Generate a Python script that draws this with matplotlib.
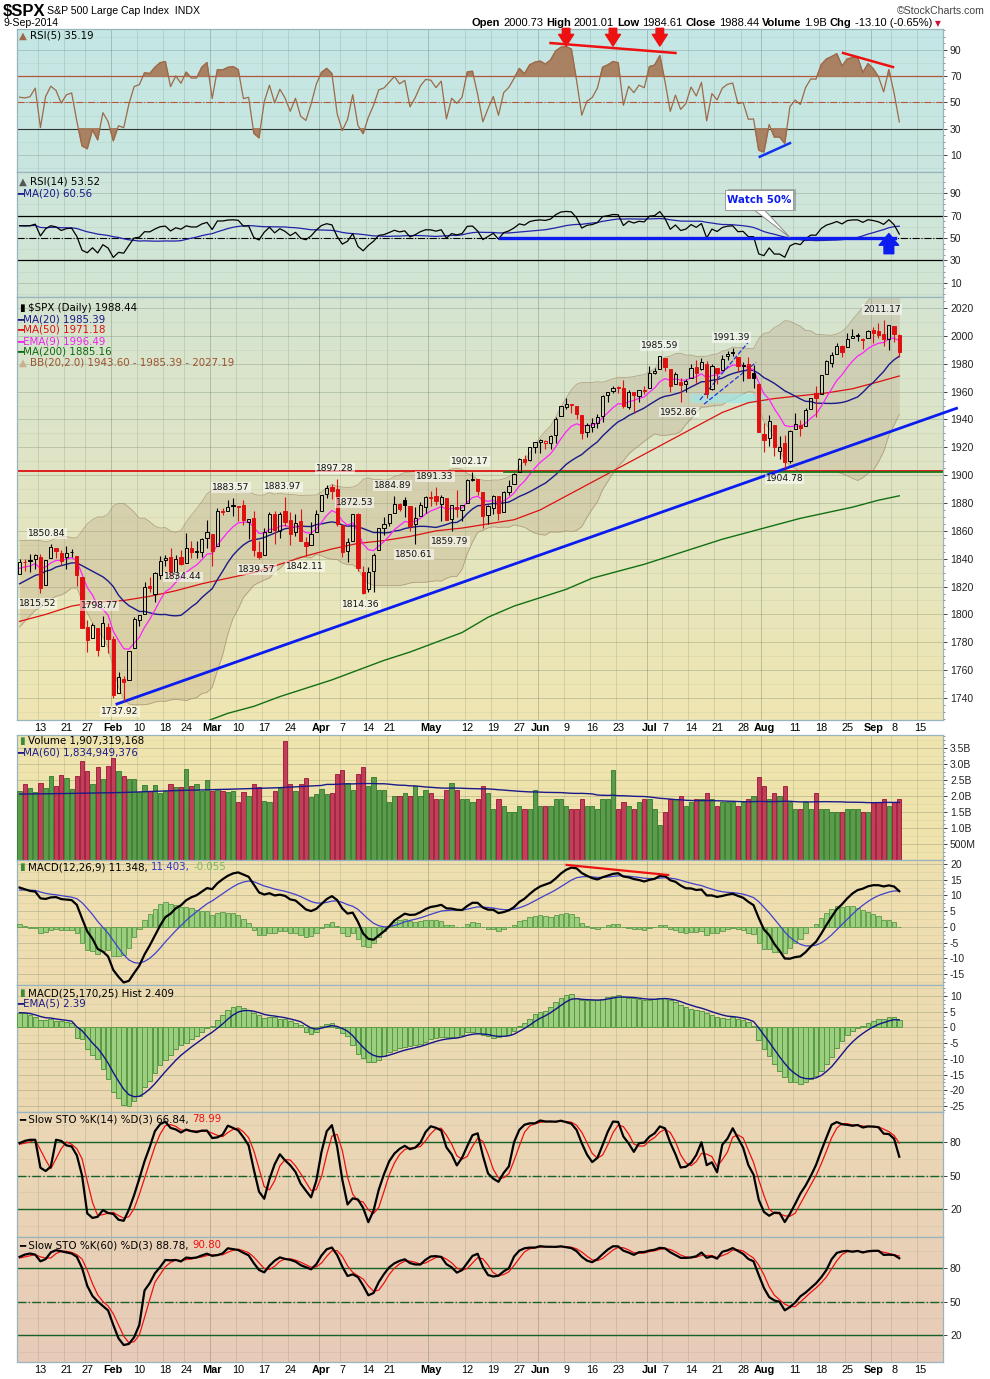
import numpy as np
import pandas as pd
import matplotlib
matplotlib.use("Agg")
import matplotlib.pyplot as plt
from matplotlib.colors import to_rgb
from matplotlib.patches import Rectangle, Polygon
from matplotlib.ticker import AutoMinorLocator

plt.rcParams['font.family'] = ['DejaVu Sans']

# ---------------- data ----------------
holidays = ['2014-01-20', '2014-02-17', '2014-04-18', '2014-05-26', '2014-07-04', '2014-09-01']
dates = pd.bdate_range('2014-01-07', '2014-09-09')
dates = dates[~dates.isin(pd.to_datetime(holidays))]

opens = [1828.71,1837.90,1839.00,1840.06,1841.26,1821.36,1840.52,1847.99,1844.23,1841.05,
         1844.71,1842.29,1826.96,1791.03,1783.00,1790.15,1777.17,1790.88,1782.68,1743.82,
         1753.38,1752.99,1776.01,1796.20,1800.45,1820.12,1814.82,1828.46,1839.03,1841.07,
         1829.24,1841.07,1836.78,1847.66,1845.79,1844.90,1855.12,1857.68,1849.23,1874.05,
         1874.18,1878.52,1877.86,1878.26,1866.15,1869.06,1845.07,1842.81,1858.92,1872.25,
         1860.09,1874.53,1867.67,1859.48,1867.09,1852.11,1850.07,1859.16,1873.96,1886.61,
         1891.43,1890.25,1863.92,1845.48,1852.64,1872.28,1830.65,1818.18,1831.45,1846.01,
         1861.73,1865.79,1872.57,1879.32,1881.97,1877.72,1865.00,1870.78,1877.10,1884.39,
         1885.30,1879.45,1883.69,1868.53,1877.39,1875.27,1880.03,1896.75,1897.13,1888.16,
         1871.19,1876.66,1884.88,1873.34,1888.19,1893.32,1902.01,1911.77,1910.60,1920.33,
         1923.87,1923.07,1923.06,1928.52,1942.41,1948.97,1950.34,1949.37,1943.35,1930.80,
         1934.84,1937.15,1942.73,1957.50,1960.45,1962.92,1962.58,1949.27,1959.89,1956.56,
         1960.79,1962.29,1973.06,1975.88,1984.22,1976.39,1965.10,1966.67,1965.76,1969.86,
         1977.36,1976.35,1979.75,1961.54,1976.93,1975.65,1985.32,1988.07,1984.60,1978.25,
         1980.03,1973.21,1965.14,1929.80,1926.62,1936.34,1917.29,1923.03,1910.35,1933.43,
         1935.73,1935.60,1947.41,1958.87,1958.36,1972.73,1980.46,1986.82,1992.60,1991.74,
         1998.59,2000.54,1997.42,1998.45,2004.07,2003.57,2001.67,1998.00,2007.17,2000.73]
highs = [1840.10,1840.02,1843.23,1843.15,1843.45,1839.26,1850.84,1847.99,1846.04,1849.31,
         1846.87,1842.29,1826.96,1795.98,1793.87,1790.15,1798.77,1793.88,1784.83,1758.73,
         1755.79,1774.06,1798.03,1799.94,1823.54,1826.55,1830.25,1841.65,1842.87,1847.50,
         1842.79,1846.13,1858.71,1852.91,1852.65,1854.53,1867.92,1857.68,1876.23,1876.53,
         1881.94,1883.57,1877.87,1882.35,1868.38,1874.40,1852.44,1862.30,1873.76,1874.14,
         1873.49,1883.97,1873.34,1871.87,1875.92,1855.55,1866.63,1875.18,1885.84,1893.17,
         1893.80,1897.28,1864.04,1854.95,1872.43,1872.53,1835.07,1834.19,1844.02,1862.31,
         1869.63,1871.89,1884.89,1879.75,1884.06,1877.72,1877.01,1880.60,1885.20,1888.59,
         1891.33,1885.51,1883.69,1878.83,1889.07,1878.57,1897.13,1902.17,1897.13,1888.16,
         1878.28,1886.00,1884.88,1888.80,1896.33,1901.26,1912.28,1914.46,1920.03,1924.03,
         1925.88,1925.07,1928.63,1941.74,1949.44,1955.55,1950.86,1949.37,1943.35,1937.30,
         1941.15,1943.69,1957.74,1959.87,1963.91,1963.74,1968.17,1960.83,1959.89,1961.47,
         1964.24,1978.58,1976.67,1985.59,1984.22,1976.39,1974.15,1969.84,1968.67,1979.85,
         1982.52,1983.94,1981.80,1979.91,1976.93,1986.24,1989.23,1991.39,1984.60,1981.52,
         1984.85,1978.90,1965.14,1937.35,1942.92,1936.34,1927.91,1928.89,1932.38,1944.90,
         1939.65,1948.41,1955.23,1964.04,1971.99,1982.57,1988.57,1994.76,1993.54,2001.95,
         2005.04,2002.14,1998.55,2004.28,2006.12,2009.28,2011.17,2007.71,2007.17,2001.01]
lows = [1828.71,1831.40,1830.38,1832.43,1815.52,1821.36,1840.52,1840.30,1835.23,1832.38,
        1840.88,1820.06,1790.29,1772.88,1783.00,1770.45,1777.17,1772.26,1739.66,1743.82,
        1737.92,1752.99,1776.01,1791.83,1800.41,1815.97,1809.22,1825.59,1835.01,1826.99,
        1824.58,1835.60,1836.78,1840.19,1840.66,1841.13,1847.67,1834.44,1849.23,1871.11,
        1874.18,1870.56,1867.04,1863.88,1854.38,1841.86,1839.57,1842.81,1858.92,1850.35,
        1854.63,1863.46,1849.69,1855.96,1852.56,1842.11,1850.07,1859.16,1873.96,1883.79,
        1882.65,1863.26,1841.48,1837.49,1852.38,1830.87,1814.36,1815.80,1816.29,1846.01,
        1856.72,1863.18,1872.57,1873.91,1870.24,1859.70,1850.61,1870.78,1872.69,1878.04,
        1878.50,1866.77,1867.72,1859.79,1870.05,1867.02,1880.03,1896.06,1885.77,1862.36,
        1864.82,1872.42,1868.14,1873.34,1885.39,1893.32,1902.01,1907.30,1909.82,1915.98,
        1915.98,1918.79,1918.60,1922.93,1942.41,1947.16,1944.64,1940.08,1925.78,1927.69,
        1930.91,1933.55,1938.29,1952.26,1959.17,1958.89,1948.34,1947.49,1944.69,1952.18,
        1958.22,1962.29,1972.58,1975.88,1974.88,1959.46,1965.10,1952.86,1959.63,1969.86,
        1965.34,1975.67,1955.59,1960.82,1965.77,1975.65,1982.44,1985.79,1974.37,1967.31,
        1969.95,1962.42,1930.67,1916.37,1921.20,1913.77,1911.45,1904.78,1909.01,1933.43,
        1928.29,1935.60,1947.41,1941.50,1958.36,1972.73,1977.68,1986.82,1984.76,1991.74,
        1998.59,1996.20,1990.52,1998.45,1994.85,1998.14,1992.54,1990.10,1995.60,1984.61]
closes = [1837.88,1837.49,1838.13,1842.37,1819.20,1838.88,1848.38,1845.89,1838.70,1843.80,
          1844.86,1828.46,1790.29,1781.56,1792.50,1774.20,1794.19,1782.59,1741.89,1755.20,
          1751.64,1773.43,1797.02,1799.84,1819.75,1819.26,1829.83,1838.63,1840.76,1828.75,
          1839.78,1836.25,1847.61,1845.12,1845.16,1854.29,1859.45,1845.73,1873.91,1873.81,
          1877.03,1878.04,1877.17,1867.63,1868.20,1846.34,1841.13,1858.83,1872.25,1860.77,
          1872.01,1866.52,1857.44,1865.62,1852.56,1849.04,1857.62,1872.34,1885.52,1890.90,
          1888.77,1865.09,1845.04,1851.96,1872.18,1833.08,1815.69,1830.61,1842.98,1862.31,
          1864.85,1871.89,1879.55,1875.39,1878.61,1863.40,1869.43,1878.33,1883.95,1883.68,
          1881.14,1884.66,1867.72,1878.21,1875.63,1878.48,1896.65,1897.45,1888.53,1870.85,
          1877.86,1885.08,1872.83,1888.03,1892.49,1900.53,1911.91,1909.78,1920.03,1923.57,
          1924.97,1924.24,1927.88,1940.46,1949.44,1951.27,1950.79,1943.89,1930.11,1936.16,
          1937.78,1941.99,1956.98,1959.48,1962.87,1962.61,1949.98,1959.53,1957.22,1960.96,
          1960.23,1973.32,1974.62,1985.44,1977.65,1963.71,1972.83,1964.68,1967.57,1977.10,
          1973.28,1981.57,1958.12,1978.22,1973.63,1983.53,1987.01,1987.98,1978.34,1978.91,
          1969.95,1970.07,1930.67,1925.15,1938.99,1920.21,1920.24,1909.57,1931.59,1936.92,
          1933.75,1946.72,1955.18,1955.06,1971.74,1981.60,1986.51,1992.37,1988.40,1997.92,
          2000.02,2000.12,1996.74,2003.37,2002.28,2000.72,1997.65,2007.71,2001.54,1988.44]
volume_b = [2.15,2.37,2.24,2.13,2.40,2.24,2.62,2.31,2.65,2.55,2.21,2.62,3.08,2.77,2.37,2.90,2.52,2.94,3.18,2.77,
            2.62,2.52,2.52,2.11,2.33,2.17,2.33,2.08,2.17,2.37,2.27,2.27,2.83,2.30,2.37,2.17,2.49,2.15,2.21,2.15,
            2.11,2.15,1.80,2.11,1.99,2.37,2.27,1.83,1.80,2.15,2.24,3.72,2.37,2.17,2.37,2.55,1.96,2.05,2.21,2.05,
            2.10,2.70,2.80,2.40,2.20,2.70,2.90,2.30,2.60,2.20,2.20,1.80,2.00,2.00,2.10,2.00,2.30,2.00,2.20,2.10,
            1.90,1.90,2.20,2.40,2.20,1.90,1.90,1.80,1.90,2.30,2.10,1.60,1.90,1.70,1.50,1.50,1.70,1.60,1.60,2.20,
            1.70,1.70,1.70,1.90,1.90,1.70,1.60,1.60,1.90,1.70,1.70,1.60,1.90,1.90,2.80,1.60,1.80,1.70,1.60,1.80,
            1.90,1.90,1.60,1.10,1.50,1.90,1.90,2.00,1.70,1.80,1.90,1.90,2.10,1.90,1.70,1.80,1.80,1.80,1.70,1.80,
            1.90,2.00,2.60,2.30,1.90,2.10,2.00,2.30,1.80,1.60,1.60,1.80,1.60,2.10,1.60,1.60,1.50,1.50,1.50,1.60,
            1.60,1.60,1.50,1.50,1.80,1.80,1.90,1.70,1.80,1.907]
# 60-day volume average over the first 59 days
vol_ma_head_idx = [0, 10, 20, 30, 40, 50, 58]
vol_ma_head_val = [2.06, 2.08, 2.11, 2.17, 2.21, 2.26, 2.33]

# MACD(25,170,25) histogram, read bar by bar
macd2_hist = [4.7,4.5,4.0,3.2,2.4,2.3,2.8,2.1,2.1,1.8,1.5,-3.4,-3.6,-6.8,-8.9,-10.0,-13.2,-16.4,-20.4,-22.6,
              -24.7,-24.9,-23.3,-21.7,-19.0,-16.9,-14.5,-12.1,-10.2,-8.7,-6.8,-5.7,-4.9,-3.6,-2.6,-1.3,-0.2,0.6,2.3,3.8,
              5.7,6.6,6.8,6.2,5.5,4.7,3.8,3.0,3.2,3.2,2.8,2.6,1.9,1.5,0.85,-1.3,-2.1,-1.3,0.4,1.1,
              1.3,-0.2,-1.7,-2.8,-5.5,-8.4,-9.8,-11.1,-10.9,-10.2,-9.1,-7.9,-7.3,-6.6,-6.2,-6.0,-5.7,-5.3,-4.5,-3.8,
              -3.4,-3.1,-3.1,-3.1,-3.1,-2.3,-1.5,-1.5,-1.7,-2.3,-2.6,-3.4,-3.2,-2.8,-2.3,-1.1,0.6,1.5,2.8,4.3,
              4.9,5.3,6.6,8.1,9.4,10.4,10.7,9.4,8.6,8.6,8.6,8.6,8.9,9.6,10.0,10.2,9.8,9.4,9.4,8.9,
              8.7,8.7,8.9,9.4,9.4,8.7,8.1,7.2,6.4,6.0,5.5,5.3,4.5,3.8,3.4,3.0,2.8,3.2,2.8,2.3,
              1.7,0.6,-4.1,-7.0,-9.1,-11.7,-14.0,-15.7,-17.2,-17.4,-18.0,-17.2,-16.4,-15.5,-13.8,-11.5,-9.4,-6.6,-4.3,-2.3,
              -1.1,-0.2,0.6,1.5,2.1,2.6,2.6,3.2,3.2,2.409]

# moving averages (index of trading day, value)
ma50_idx = [0,5,10,15,20,25,30,35,40,45,50,55,60,65,70,75,80,85,90,95,100,105,110,115,120,125,130,135,140,145,150,155,160,165,169]
ma50_val = [1795,1800,1806,1809,1810,1813,1817,1822,1826,1830,1836,1842,1847,1851,1853,1856,1860,1862,1865,1868,
            1875,1885,1895,1905,1915,1925,1935,1945,1952,1955,1957,1959,1962,1967,1971.18]
ma200_idx = [30,35,40,45,50,55,60,65,70,75,80,85,90,95,100,105,110,115,120,125,130,135,140,145,150,155,160,165,169]
ma200_val = [1716,1722,1729,1734,1741,1747,1753,1760,1767,1773,1780,1787,1798,1806,1812,1818,1826,1831,1836,1842,
             1848,1854,1859,1864,1869,1873,1877,1882,1885.16]
# first 19 days of the 20-day average and bands
ma20_head = [1822,1824,1826,1828,1829,1831,1832,1834,1835,1836,1837,1837,1835,1833,1831,1829,1827,1824,1820]
bbu_head = [1853,1853,1853,1853,1853,1852,1853,1855,1856,1856,1855,1855,1860,1865,1868,1870,1870,1872,1878]
bbl_head = [1791,1795,1799,1803,1805,1810,1811,1813,1814,1816,1819,1819,1810,1801,1794,1788,1784,1776,1762]
# indicator states at the left edge
rsi5_start, rsi14_start = 54.0, 61.0
ema9_seed, ema12_seed, ema26_seed, signal_seed = 1832.0, 1832.0, 1819.0, 11.5
sto14_k_head = [79,81,82,82,57,54,58,82,81,77,76,68,50,16,12,13,19]
sto14_d_head = [78,79,80,82,73,64,56,65,74,80,78,74,65,45,26,14,15]
sto60_k_head = [90,92,93,92,86,88,94,96,95,94,93,90,80,64,55,50,46,42,29,17,11,12,18,29]
sto60_d_head = [89,90,91,92,90,89,89,93,95,95,94,92,88,78,66,56,50,46,39,29,19,13,14,20]

tick_dates = ['2014-01-13','2014-01-21','2014-01-27','2014-02-03','2014-02-10','2014-02-18','2014-02-24',
              '2014-03-03','2014-03-10','2014-03-17','2014-03-24','2014-04-01','2014-04-07','2014-04-14',
              '2014-04-21','2014-05-01','2014-05-12','2014-05-19','2014-05-27','2014-06-02','2014-06-09',
              '2014-06-16','2014-06-23','2014-07-01','2014-07-07','2014-07-14','2014-07-21','2014-07-28',
              '2014-08-01','2014-08-11','2014-08-18','2014-08-25','2014-09-02','2014-09-08','2014-09-15']
tick_labels = ['13','21','27','Feb','10','18','24','Mar','10','17','24','Apr','7','14','21','May','12','19',
               '27','Jun','9','16','23','Jul','7','14','21','28','Aug','11','18','25','Sep','8','15']
month_labels = {'Feb','Mar','Apr','May','Jun','Jul','Aug','Sep'}

price_labels = [(5.3,'1850.84',1850.84,1),(3.5,'1815.52',1815.52,-1),(15.4,'1798.77',1798.77,1),
                (19.3,'1737.92',1737.92,-1),(31.4,'1834.44',1834.44,-1),(40.6,'1883.57',1883.57,1),
                (45.6,'1839.57',1839.57,-1),(50.6,'1883.97',1883.97,1),(54.8,'1842.11',1842.11,-1),
                (60.6,'1897.28',1897.28,1),(64.4,'1872.53',1872.53,1),(65.6,'1814.36',1814.36,-1),
                (71.7,'1884.89',1884.89,1),(75.8,'1850.61',1850.61,-1),(79.8,'1891.33',1891.33,1),
                (82.7,'1859.79',1859.79,-1),(86.5,'1902.17',1902.17,1),(123.0,'1985.59',1985.59,1),
                (126.7,'1952.86',1952.86,-1),(136.8,'1991.39',1991.39,1),(147.0,'1904.78',1904.78,-1),
                (165.7,'2011.17',2011.17,1)]

# ---------------- derived ----------------
o = np.array(opens); h = np.array(highs); l = np.array(lows); c = np.array(closes)
n = len(c)
x = np.arange(n)
cs = pd.Series(c)

def rsi_wilder(vals, per, start):
    d = np.diff(vals)
    mag = np.mean(np.abs(d[:per]))
    ag, al = mag * start / 100, mag * (1 - start / 100)
    out = [start]
    for v in d:
        ag = (ag * (per - 1) + max(v, 0)) / per
        al = (al * (per - 1) + max(-v, 0)) / per
        out.append(100 * ag / (ag + al))
    return np.array(out)

def ema(vals, span, seed):
    a = 2 / (span + 1); e = seed; out = []
    for v in vals:
        e = e + a * (v - e); out.append(e)
    return np.array(out)

rsi5 = rsi_wilder(c, 5, rsi5_start)
rsi14 = rsi_wilder(c, 14, rsi14_start)
rsi14_ma = pd.Series(rsi14).rolling(20, min_periods=1).mean().values

ma20 = cs.rolling(20).mean().values
sd20 = cs.rolling(20).std(ddof=0).values
bbu = ma20 + 2 * sd20; bbl = ma20 - 2 * sd20
ma20[:19] = ma20_head; bbu[:19] = bbu_head; bbl[:19] = bbl_head
ema9 = ema(c, 9, ema9_seed)

macd = ema(c, 12, ema12_seed) - ema(c, 26, ema26_seed)
signal = ema(macd, 9, signal_seed)
mhist = macd - signal

m2 = np.array(macd2_hist)
m2_ema = pd.Series(m2).ewm(span=5, adjust=False).mean().values

def slow_sto(per, khead, dhead):
    hh = pd.Series(h).rolling(per, min_periods=1).max()
    ll = pd.Series(l).rolling(per, min_periods=1).min()
    fast = 100 * (cs - ll) / (hh - ll)
    k = fast.rolling(3, min_periods=1).mean().values
    k[:len(khead)] = khead
    d = pd.Series(k).rolling(3, min_periods=1).mean().values
    d[:len(dhead)] = dhead
    return k, d

k14, d14 = slow_sto(14, sto14_k_head, sto14_d_head)
k60, d60 = slow_sto(60, sto60_k_head, sto60_d_head)

vol = np.array(volume_b)
vol_ma_full = pd.Series(vol).rolling(60).mean().values
vma_x = np.r_[vol_ma_head_idx, np.arange(59, n)]
vma_y = np.r_[vol_ma_head_val, vol_ma_full[59:]]
down = np.r_[False, c[1:] < c[:-1]]

date_index = {d.strftime('%Y-%m-%d'): i for i, d in enumerate(dates)}
tick_pos = [date_index.get(d, n - 1 + 4) for d in tick_dates]

# ---------------- figure ----------------
W, H = 990, 1379
fig = plt.figure(figsize=(W / 100, H / 100), dpi=100)
fig.patch.set_facecolor('white')
renderer = fig.canvas.get_renderer()
X0, X1 = 17, 943
XL = (-0.5, 177.4)
LIB = ['Liberation Sans', 'DejaVu Sans']
LEG = 7.4

def add_ax(top, bottom):
    return fig.add_axes([X0 / W, 1 - bottom / H, (X1 - X0) / W, (bottom - top) / H])

def grad(ax, ct, cb):
    t = np.array(to_rgb(ct)); b = np.array(to_rgb(cb))
    f = np.linspace(0, 1, 200)[:, None]
    img = (t * (1 - f) + b * f)[:, None, :]
    ax.imshow(img, extent=[0, 1, 0, 1], transform=ax.transAxes, aspect='auto',
              zorder=-10, interpolation='bilinear')

def setup(ax, ylim, yticks, ytl, ct, cb, minor=True):
    grad(ax, ct, cb)
    ax.set_xlim(*XL); ax.set_ylim(*ylim)
    ax.yaxis.tick_right()
    ax.set_yticks(yticks)
    ax.set_yticklabels(ytl, family=LIB)
    ax.tick_params(axis='y', labelsize=7.5, length=3, pad=2, colors='#222222', width=0.6)
    ax.tick_params(axis='y', which='minor', length=1.5, width=0.5, colors='#666666')
    if minor:
        ax.yaxis.set_minor_locator(AutoMinorLocator(4))
    ax.set_xticks(tick_pos)
    ax.tick_params(axis='x', length=0, labelbottom=False)
    for s in ax.spines.values():
        s.set_color('#9ab4bd'); s.set_linewidth(0.9)
    for p, lab in zip(tick_pos, tick_labels):
        a = 0.30 if lab in month_labels else 0.16
        ax.axvline(p - 0.5, color=(0.3, 0.38, 0.3, a), lw=0.7, zorder=0.5)
    for yv in yticks:
        ax.axhline(yv, color=(0.3, 0.38, 0.3, 0.18), lw=0.7, zorder=0.5)
    step = (yticks[1] - yticks[0]) / 2 if len(yticks) > 1 else 0
    if step:
        for yv in np.arange(min(yticks) - 4 * step, max(yticks) + 4 * step, step):
            if ylim[0] < yv < ylim[1]:
                ax.axhline(yv, color=(0.3, 0.38, 0.3, 0.08), lw=0.6, zorder=0.4)

def segs_text(px, py, segs, size=LEG, family=None, align='left', gap=3.5):
    texts = []
    for s, col, wt in segs:
        t = fig.text(0, 1 - py / H, s, fontsize=size, color=col, fontweight=wt,
                     ha='left', va='center', family=family or ['DejaVu Sans'])
        texts.append((t, t.get_window_extent(renderer=renderer).width))
    total = sum(w for _, w in texts) + gap * (len(texts) - 1)
    xx = px if align == 'left' else px - total
    for t, w in texts:
        t.set_x(xx / W)
        xx += w + gap
    return xx - gap

def xlabels(ax):
    ax.tick_params(axis='x', labelbottom=True, pad=2, labelsize=7.8)
    ax.set_xticklabels(tick_labels)
    for tl in ax.get_xticklabels():
        tl.set_family(LIB)
        if tl.get_text() in month_labels:
            tl.set_fontweight('bold')

# ---- RSI(5) ----
ax1 = add_ax(29, 172)
setup(ax1, (-3, 106), [10, 30, 50, 70, 90], ['10', '30', '50', '70', '90'], '#c4e7e5', '#c9e6df')
ax1.axhline(70, color='#b5553a', lw=0.9, zorder=2)
ax1.axhline(50, color='#b5553a', lw=0.8, ls='-.', zorder=2)
ax1.axhline(30, color='#333333', lw=0.8, zorder=2)
ax1.fill_between(x, rsi5, 70, where=rsi5 > 70, interpolate=True, color='#a87c5c', alpha=0.95, zorder=2.5)
ax1.fill_between(x, rsi5, 30, where=rsi5 < 30, interpolate=True, color='#a87c5c', alpha=0.95, zorder=2.5)
ax1.plot(x, rsi5, color='#9c6a48', lw=0.9, zorder=3)
for xi in [105, 114, 123]:
    ax1.annotate('', xy=(xi, 93), xytext=(xi, 106.5), annotation_clip=False,
                 arrowprops=dict(arrowstyle='simple,head_width=0.9,head_length=0.7,tail_width=0.45',
                                 color='#ee1111', mutation_scale=12, shrinkA=0, shrinkB=0))
ax1.plot([102, 126], [95.3, 87.7], color='#ee1111', lw=1.8, zorder=4)
ax1.plot([158.2, 167.8], [87.7, 77.0], color='#ee1111', lw=1.8, zorder=4)
ax1.plot([142.2, 148.0], [8.6, 19.0], color='#1133ee', lw=1.8, zorder=4)

# ---- RSI(14) ----
ax2 = add_ax(172, 297)
setup(ax2, (-2.6, 108.9), [10, 30, 50, 70, 90], ['10', '30', '50', '70', '90'], '#cde6dc', '#d3e5d3')
ax2.axhline(70, color='black', lw=0.9, zorder=2)
ax2.axhline(50, color='black', lw=0.8, ls='-.', zorder=2)
ax2.axhline(30, color='black', lw=0.9, zorder=2)
ax2.plot(x, rsi14_ma, color='#2222aa', lw=0.9, zorder=3)
ax2.plot(x, rsi14, color='black', lw=0.9, zorder=3.5)
ax2.plot([92.3, 168.2], [50, 50], color='#0b1cf0', lw=2.4, zorder=4)
ax2.annotate('', xy=(167, 54), xytext=(167, 36), annotation_clip=False,
             arrowprops=dict(arrowstyle='simple,head_width=1.0,head_length=0.6,tail_width=0.5',
                             color='#0b1cf0', mutation_scale=14, shrinkA=0, shrinkB=0))
ax2.add_patch(Polygon([[141.0, 75.5], [143.0, 75.5], [148.0, 50.5]], closed=True,
                      facecolor='white', edgecolor='#888888', lw=0.7, zorder=5))
ax2.add_patch(Rectangle((136.0, 74.0), 13.2, 19.5, facecolor='#777777', edgecolor='none', zorder=5.5, alpha=0.5))
ax2.add_patch(Rectangle((135.5, 75.2), 13.0, 18.0, facecolor='white', edgecolor='#999999', lw=0.7, zorder=6))
ax2.text(142.0, 84.2, 'Watch 50%', color='#0b1cf0', fontsize=7.4, fontweight='bold',
         ha='center', va='center', zorder=7)

# ---- Price ----
ax3 = add_ax(297, 720)
setup(ax3, (1724.2, 2027.9), list(range(1740, 2021, 20)), [str(v) for v in range(1740, 2021, 20)],
      '#d5e4d1', '#efe6b2')
ax3.fill_between(x, bbl, bbu, color='#b39a78', alpha=0.27, lw=0, zorder=1)
ax3.plot(x, bbu, color='#a08a6a', lw=0.6, alpha=0.7, zorder=1.2)
ax3.plot(x, bbl, color='#a08a6a', lw=0.6, alpha=0.7, zorder=1.2)
ax3.axhline(1903, color='#dd1111', lw=1.3, zorder=2)
ax3.plot([93, XL[1]], [1902.5, 1902.5], color='#1a7a1a', lw=1.3, zorder=2.1)
ax3.plot(ma200_idx, ma200_val, color='#127012', lw=1.0, zorder=2)
ax3.plot(ma50_idx, ma50_val, color='#dd1111', lw=0.9, zorder=2)
ax3.plot(x, ma20, color='#1a1a8a', lw=1.0, zorder=2)
ax3.plot(x, ema9, color='#ff22ff', lw=0.9, zorder=2)
ax3.add_patch(Rectangle((128.8, 1951.5), 14.5, 7.0, facecolor='#9fe6e6', edgecolor='none', alpha=0.7, zorder=1.5))
ax3.plot([130.7, 139.9], [1954, 1995], color='#2233dd', lw=0.9, ls='--', zorder=2.5)
ax3.plot([131.5, 141.5], [1951, 1981], color='#2233dd', lw=0.9, ls='--', zorder=2.5)
ax3.plot([18.7, 180.0], [1735.7, 1948.0], color='#0b1cf0', lw=2.0, zorder=2.6, clip_on=False)
col = np.where(down, '#e01010', 'black')
top_b = np.maximum(o, c); bot_b = np.minimum(o, c)
ax3.vlines(x, l, bot_b, colors=col, lw=0.8, zorder=3)
ax3.vlines(x, top_b, h, colors=col, lw=0.8, zorder=3)
hgt = np.maximum(top_b - bot_b, 0.35)
bg_face = ['none' if cc > oo else cl for cc, oo, cl in zip(c, o, col)]
ax3.bar(x, hgt, bottom=bot_b, width=0.62, color=bg_face, edgecolor=col, lw=0.7, zorder=4)
for xi, s, v, side in price_labels:
    ax3.annotate(s, xy=(xi, v), xytext=(0, 10.5 * side), textcoords='offset pixels',
                 ha='center', va='center', fontsize=6.6, color='#111111', zorder=6,
                 bbox=dict(boxstyle='square,pad=0.1', facecolor='white', edgecolor='none', alpha=0.55))
xlabels(ax3)

# ---- Volume ----
ax4 = add_ax(735, 860)
setup(ax4, (0, 3.906), [0.5, 1.0, 1.5, 2.0, 2.5, 3.0, 3.5],
      ['500M', '1.0B', '1.5B', '2.0B', '2.5B', '3.0B', '3.5B'], '#f0e5ae', '#efe2ab')
ax4.bar(x, vol, width=0.82, color=np.where(down, '#c0405a', '#5c9b4a'),
        edgecolor=np.where(down, '#a0103a', '#2d7a2d'), lw=0.6, zorder=3)
ax4.plot(vma_x, vma_y, color='#1a1a8a', lw=1.0, zorder=4)

# ---- MACD(12,26,9) ----
ax5 = add_ax(860, 985)
setup(ax5, (-18.5, 21.27), list(range(-15, 21, 5)), [str(v) for v in range(-15, 21, 5)], '#efe0b0', '#eedcb0')
ax5.bar(x, mhist, width=0.85, color='#9ccf7d', edgecolor='#5a9946', lw=0.6, zorder=3)
ax5.plot(x, signal, color='#4040cc', lw=0.9, zorder=4)
ax5.plot(x, macd, color='black', lw=1.6, zorder=5)
ax5.plot([105.1, 124.6], [19.7, 16.5], color='#ee1111', lw=1.6, zorder=6)

# ---- MACD(25,170,25) ----
ax6 = add_ax(985, 1112)
setup(ax6, (-26.9, 13.5), list(range(-25, 11, 5)), [str(v) for v in range(-25, 11, 5)], '#eddcb0', '#ebd8b2')
ax6.bar(x, m2, width=0.9, color='#9ccf7d', edgecolor='#5a9946', lw=0.7, zorder=3)
ax6.plot(x, m2_ema, color='#14148a', lw=1.0, zorder=4)

# ---- Slow STO 14 ----
ax7 = add_ax(1112, 1237)
setup(ax7, (-5.1, 106.9), [20, 50, 80], ['20', '50', '80'], '#ebd7b4', '#e9d2b6', minor=False)
for yy, ls in [(80, '-'), (50, '-.'), (20, '-')]:
    ax7.axhline(yy, color='#16602a', lw=1.0, ls=ls, zorder=2)
ax7.plot(x, d14, color='#ee1111', lw=0.9, zorder=3)
ax7.plot(x, k14, color='black', lw=1.6, zorder=4)

# ---- Slow STO 60 ----
ax8 = add_ax(1237, 1362)
setup(ax8, (-4.2, 107.8), [20, 50, 80], ['20', '50', '80'], '#e9d1b6', '#e7cbb9', minor=False)
for yy, ls in [(80, '-'), (50, '-.'), (20, '-')]:
    ax8.axhline(yy, color='#16602a', lw=1.0, ls=ls, zorder=2)
ax8.plot(x, d60, color='#ee1111', lw=0.9, zorder=3)
ax8.plot(x, k60, color='black', lw=1.6, zorder=4)
xlabels(ax8)

# ---------------- texts ----------------
fig.text(3 / W, 1 - 11 / H, '$SPX', fontsize=12, fontweight='bold', family=LIB, va='center')
fig.text(47 / W, 1 - 11 / H, 'S&P 500 Large Cap Index  INDX', fontsize=7.6, family=LIB, va='center')
fig.text(3 / W, 1 - 23 / H, '9-Sep-2014', fontsize=7.6, family=LIB, va='center')
fig.text(985 / W, 1 - 11 / H, '\u00a9StockCharts.com', fontsize=7.6, family=LIB, va='center',
         ha='right', color='#444444')
segs_text(932, 23, [('Open', 'black', 'bold'), ('2000.73', 'black', 'normal'),
                    ('High', 'black', 'bold'), ('2001.01', 'black', 'normal'),
                    ('Low', 'black', 'bold'), ('1984.61', 'black', 'normal'),
                    ('Close', 'black', 'bold'), ('1988.44', 'black', 'normal'),
                    ('Volume', 'black', 'bold'), ('1.9B', 'black', 'normal'),
                    ('Chg', 'black', 'bold'), ('-13.10 (-0.65%)', 'black', 'normal')],
          size=8.0, family=LIB, align='right', gap=3)
fig.text(935 / W, 1 - 24 / H, '\u25bc', fontsize=5.5, color='#cc1133', va='center')

segs_text(19, 36, [('\u25b2', '#9c6a48', 'normal'), ('RSI(5) 35.19', 'black', 'normal')])
segs_text(19, 182, [('\u25b2', '#555555', 'normal'), ('RSI(14) 53.52', 'black', 'normal')])
segs_text(17, 193, [('\u2501MA(20) 60.56', '#1a1a8a', 'normal')])
segs_text(19, 308, [('\u25ae', 'black', 'normal'), ('$SPX (Daily) 1988.44', 'black', 'normal')])
for k, (s, cl) in enumerate([('\u2501MA(20) 1985.39', '#1a1a8a'), ('\u2501MA(50) 1971.18', '#dd1111'),
                             ('\u2501EMA(9) 1996.49', '#ee22ee'), ('\u2501MA(200) 1885.16', '#0e6a0e')]):
    segs_text(17, 319 + 11 * k, [(s, cl, 'normal')])
segs_text(19, 363, [('\u25b2', '#c8b090', 'normal'), ('BB(20,2.0) 1943.60 - 1985.39 - 2027.19', '#a0522d', 'normal')])
segs_text(19, 741, [('\u25ae', '#3a8a3a', 'normal'), ('Volume 1,907,319,168', 'black', 'normal')])
segs_text(17, 752, [('\u2501MA(60) 1,834,949,376', '#1a1a8a', 'normal')])
segs_text(19, 867, [('\u25ae', '#3a8a3a', 'normal'), ('MACD(12,26,9) 11.348,', 'black', 'normal'),
                    ('11.403,', '#3333cc', 'normal'), ('-0.055', '#77bb55', 'normal')])
segs_text(19, 993, [('\u25ae', '#3a8a3a', 'normal'), ('MACD(25,170,25) Hist 2.409', 'black', 'normal')])
segs_text(17, 1004, [('\u2501EMA(5) 2.39', '#1a1a8a', 'normal')])
segs_text(19, 1119, [('\u2501 Slow STO %K(14) %D(3) 66.84,', 'black', 'normal'), ('78.99', '#ee1111', 'normal')])
segs_text(19, 1245, [('\u2501 Slow STO %K(60) %D(3) 88.78,', 'black', 'normal'), ('90.80', '#ee1111', 'normal')])

fig.savefig('out.png', dpi=100, facecolor='white')
